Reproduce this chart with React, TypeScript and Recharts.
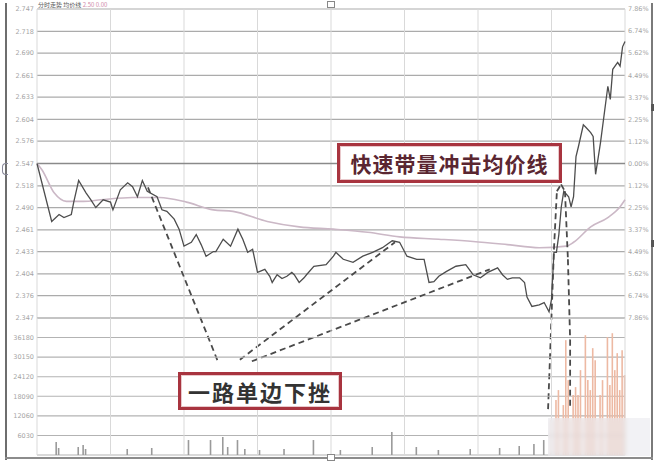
import React from "react";
import {
  ComposedChart,
  Line,
  Bar,
  Cell,
  XAxis,
  YAxis,
  CartesianGrid,
  ReferenceLine,
} from "recharts";

// previous close (0% line)
const PRE_CLOSE = 2.547;

// price line: minute of the session, price
const priceMinutes = [
  0, 6, 9, 11, 14, 15, 17, 20, 22, 24, 27, 30, 31, 34, 37, 39, 41, 43, 45, 49, 51, 53, 56, 58, 60,
  63, 65, 67, 69, 72, 73, 76, 79, 82, 84, 86, 88, 90, 93, 95, 96, 98, 100, 102, 104, 105, 107, 109,
  110, 113, 118, 121, 122, 125, 129, 133, 137, 141, 145, 148, 151, 155, 158, 160, 162, 164, 167,
  171, 175, 178, 181, 184, 188, 190, 192, 194, 197, 199, 200, 202, 205, 207, 209, 210, 211, 212,
  213, 214, 215, 217, 218, 219, 220, 221, 223, 224, 226, 227, 228, 230, 233, 234, 235, 237, 238,
  239, 240,
];
const priceValues = [
  2.547, 2.472, 2.481, 2.477, 2.481, 2.497, 2.525, 2.509, 2.5, 2.49, 2.5, 2.497, 2.487, 2.513,
  2.522, 2.517, 2.504, 2.525, 2.511, 2.504, 2.487, 2.485, 2.475, 2.462, 2.44, 2.445, 2.455, 2.442,
  2.427, 2.433, 2.433, 2.449, 2.44, 2.462, 2.449, 2.432, 2.436, 2.406, 2.41, 2.401, 2.393, 2.403,
  2.398, 2.401, 2.406, 2.403, 2.393, 2.399, 2.403, 2.414, 2.416, 2.427, 2.432, 2.423, 2.419, 2.427,
  2.432, 2.438, 2.447, 2.445, 2.427, 2.423, 2.423, 2.393, 2.394, 2.401, 2.407, 2.414, 2.416, 2.403,
  2.399, 2.406, 2.412, 2.403, 2.397, 2.399, 2.399, 2.393, 2.374, 2.362, 2.364, 2.367, 2.355, 2.371,
  2.432, 2.432, 2.455, 2.491, 2.511, 2.504, 2.491, 2.504, 2.556, 2.569, 2.597, 2.594, 2.587, 2.582,
  2.533, 2.574, 2.647, 2.63, 2.669, 2.678, 2.673, 2.698, 2.705,
];

// average price line
const avgMinutes = [
  0, 2, 7, 12, 19, 26, 39, 50, 61, 72, 80, 94, 107, 121, 135, 148, 164, 178, 192, 205, 216, 219,
  226, 233, 238, 240,
];
const avgValues = [
  2.547, 2.539, 2.509, 2.498, 2.498, 2.5, 2.503, 2.503, 2.497, 2.487, 2.485, 2.472, 2.465, 2.462,
  2.458, 2.452, 2.449, 2.446, 2.442, 2.438, 2.44, 2.445, 2.465, 2.477, 2.491, 2.5,
];

// volume bars
const volMinutes = [
  8, 9, 17, 19, 20, 37, 47, 62, 71, 76, 78, 82, 85, 91, 101, 113, 124, 137, 145, 155, 164, 177,
  189, 197, 203, 207, 210, 212, 213, 215, 216, 217, 219, 220, 221, 222, 224, 225, 226, 227, 228,
  230, 231, 233, 234, 235, 236, 237, 238, 239, 240,
];
const volValues = [
  4000, 2150, 2460, 3080, 1850, 1850, 2150, 4610, 4610, 5540, 2460, 4610, 1850, 1540, 1850, 4610,
  1540, 2460, 7080, 2460, 1540, 1850, 2150, 2770, 3380, 4610, 10770, 16920, 20000, 15380, 35380,
  23070, 18460, 20920, 18460, 26150, 36920, 23070, 20000, 32920, 29230, 18460, 23070, 36300, 21540,
  37530, 26150, 31380, 20000, 32300, 24610,
];
const surgeFrom = 210;

// axis ticks
const timeTicks = [0, 30, 60, 90, 120, 150, 180, 210, 240];
const priceTicks = [
  2.347, 2.376, 2.404, 2.433, 2.461, 2.49, 2.518, 2.547, 2.576, 2.604, 2.633, 2.661, 2.69, 2.718,
  2.747,
];
const pctTicks = [
  -7.86, -6.74, -5.62, -4.49, -3.37, -2.25, -1.12, 0, 1.12, 2.25, 3.37, 4.49, 5.62, 6.74, 7.86,
];
const volTicks = [0, 6030, 12060, 18090, 24120, 30150, 36180, 42210];
const VOL_MAX = 42210;

// dashed guide lines (minute, price)
const guideLines = [
  [[45.3, 2.516], [73.8, 2.291]],
  [[82.8, 2.293], [146.1, 2.445]],
  [[87.7, 2.291], [184.8, 2.41]],
];
const loopPath = [
  [208.6, 2.229],
  [209.8, 2.332],
  [211.0, 2.436],
  [212.2, 2.511],
  [213.9, 2.52],
  [215.5, 2.511],
  [216.7, 2.423],
  [217.6, 2.319],
  [217.6, 2.229],
];

const priceData = priceMinutes.map((m, i) => ({ m, p: priceValues[i] }));
const avgData = avgMinutes.map((m, i) => ({ m, a: avgValues[i] }));
const volData = volMinutes.map((m, i) => ({ m, v: volValues[i] }));

const tickStyle = { fill: "#a5a5a5", fontSize: 6.5, fontFamily: "DejaVu Sans" };

const loopSegments = loopPath.slice(1).map((pt, i) => [loopPath[i], pt]);
const allGuides = [...guideLines, ...loopSegments];

// top volume tick shares its line with the bottom price tick, so leave it unlabelled
const volLabel = (v: number) => (v === 0 || v === VOL_MAX ? "" : String(v));

const boxText: React.CSSProperties = {
  position: "absolute",
  border: "3px solid #a8343f",
  background: "#fff",
  fontFamily: "'Noto Sans CJK SC'",
  fontWeight: 700,
  display: "flex",
  alignItems: "center",
  justifyContent: "center",
  boxSizing: "border-box",
  boxShadow: "inset 0 0 0 1px #e9c9cc",
};

export default function App() {
  return (
    <div
      style={{
        position: "absolute",
        left: 0,
        top: 0,
        width: 660,
        height: 466,
        background: "#fff",
        overflow: "hidden",
      }}
    >
      {/* price panel */}
      <div style={{ position: "absolute", left: 0, top: 0 }}>
        <ComposedChart width={660} height={466} margin={{ top: 9, right: 0, bottom: 148, left: 0 }}>
          <CartesianGrid yAxisId="p" stroke="#ababab" strokeWidth={1.2} vertical={false} />
          <XAxis dataKey="m" type="number" domain={[0, 240]} ticks={timeTicks} hide />
          <YAxis
            yAxisId="p"
            type="number"
            domain={[2.347, 2.747]}
            ticks={priceTicks}
            interval={0}
            width={37}
            tick={tickStyle}
            tickSize={0}
            tickMargin={3}
            axisLine={false}
            tickFormatter={(v: number) => v.toFixed(3)}
            allowDataOverflow
          />
          <YAxis
            yAxisId="pct"
            orientation="right"
            type="number"
            domain={[-7.86, 7.86]}
            ticks={pctTicks}
            interval={0}
            width={35}
            tick={tickStyle}
            tickSize={0}
            tickMargin={3}
            axisLine={false}
            tickFormatter={(v: number) => Math.abs(v).toFixed(2) + "%"}
            allowDataOverflow
          />
          {timeTicks.map((t) => (
            <ReferenceLine key={"v" + t} yAxisId="p" x={t} stroke="#d9d9d9" strokeWidth={1} />
          ))}
          <ReferenceLine yAxisId="p" y={PRE_CLOSE} stroke="#8a8a8a" strokeWidth={1.6} />
          <Line
            yAxisId="p"
            data={avgData}
            dataKey="a"
            type="monotone"
            stroke="#cbb8c6"
            strokeWidth={1.6}
            dot={false}
            isAnimationActive={false}
          />
          <Line
            yAxisId="p"
            data={priceData}
            dataKey="p"
            type="linear"
            stroke="#4d4d4d"
            strokeWidth={1.3}
            dot={false}
            isAnimationActive={false}
          />
          {allGuides.map((g, i) => (
            <ReferenceLine
              key={"g" + i}
              yAxisId="p"
              segment={[
                { x: g[0][0], y: g[0][1] },
                { x: g[1][0], y: g[1][1] },
              ]}
              stroke="#4a4a4a"
              strokeWidth={1.8}
              strokeDasharray="6 4"
              ifOverflow="visible"
            />
          ))}
        </ComposedChart>
      </div>

      {/* volume panel */}
      <div style={{ position: "absolute", left: 0, top: 0 }}>
        <ComposedChart
          width={660}
          height={466}
          data={volData}
          margin={{ top: 318, right: 0, bottom: 11, left: 0 }}
        >
          <CartesianGrid yAxisId="v" stroke="#b3b3b3" strokeWidth={1.1} vertical={false} />
          <XAxis dataKey="m" type="number" domain={[0, 240]} ticks={timeTicks} hide />
          <YAxis
            yAxisId="v"
            type="number"
            domain={[0, VOL_MAX]}
            ticks={volTicks}
            interval={0}
            width={37}
            tick={tickStyle}
            tickSize={0}
            tickMargin={3}
            axisLine={false}
            tickFormatter={volLabel}
          />
          <YAxis
            yAxisId="v2"
            orientation="right"
            type="number"
            domain={[0, VOL_MAX]}
            ticks={volTicks}
            interval={0}
            width={35}
            tick={tickStyle}
            tickSize={0}
            tickMargin={3}
            axisLine={false}
            tickFormatter={volLabel}
          />
          {timeTicks.map((t) => (
            <ReferenceLine key={"vv" + t} yAxisId="v" x={t} stroke="#d9d9d9" strokeWidth={1} />
          ))}
          <Bar yAxisId="v" dataKey="v" barSize={1.6} isAnimationActive={false}>
            {volData.map((d, i) => (
              <Cell key={i} fill={d.m >= surgeFrom ? "#edb9a3" : "#9a9a9a"} />
            ))}
          </Bar>
        </ComposedChart>
      </div>

      {/* header */}
      <div
        style={{
          position: "absolute",
          left: 38,
          top: 0,
          fontSize: 6,
          color: "#555",
          fontFamily: "'Noto Sans CJK SC'",
          whiteSpace: "nowrap",
        }}
      >
        分时走势 均价线 <span style={{ color: "#d08aa8" }}>2.50 0.00</span>
      </div>

      {/* annotation boxes */}
      <div
        style={{
          ...boxText,
          left: 337,
          top: 143,
          width: 225,
          height: 40,
          fontSize: 21,
          color: "#5a2631",
          letterSpacing: 1,
        }}
      >
        快速带量冲击均价线
      </div>
      <div
        style={{
          ...boxText,
          left: 178,
          top: 372,
          width: 164,
          height: 38,
          fontSize: 22,
          color: "#333",
          letterSpacing: 2,
        }}
      >
        一路单边下挫
      </div>

      {/* blurred corner watermark area */}
      <div
        style={{
          position: "absolute",
          left: 548,
          top: 418,
          width: 102,
          height: 38,
          background: "rgba(232,232,236,0.55)",
          backdropFilter: "blur(2px)",
        }}
      />

      {/* frame */}
      <div style={{ position: "absolute", left: 5, top: 3, width: 2, height: 457, background: "#6e6e6e" }} />
      <div style={{ position: "absolute", left: 651, top: 3, width: 2, height: 457, background: "#7a7a7a" }} />
      <div style={{ position: "absolute", left: 5, top: 457, width: 648, height: 2, background: "#8c8c8c" }} />
      <div style={{ position: "absolute", left: 327, top: 1, width: 6, height: 5, border: "1px solid #888", background: "#fff" }} />
      <div style={{ position: "absolute", left: 327, top: 454, width: 6, height: 5, border: "1px solid #888", background: "#fff" }} />
      <div style={{ position: "absolute", left: 2, top: 163, width: 5, height: 10, border: "1px solid #889", borderRight: "none", borderRadius: "4px 0 0 4px" }} />
      <div style={{ position: "absolute", left: 651, top: 104, width: 3, height: 7, background: "#555" }} />
      <div style={{ position: "absolute", left: 651, top: 240, width: 3, height: 7, background: "#555" }} />
    </div>
  );
}
